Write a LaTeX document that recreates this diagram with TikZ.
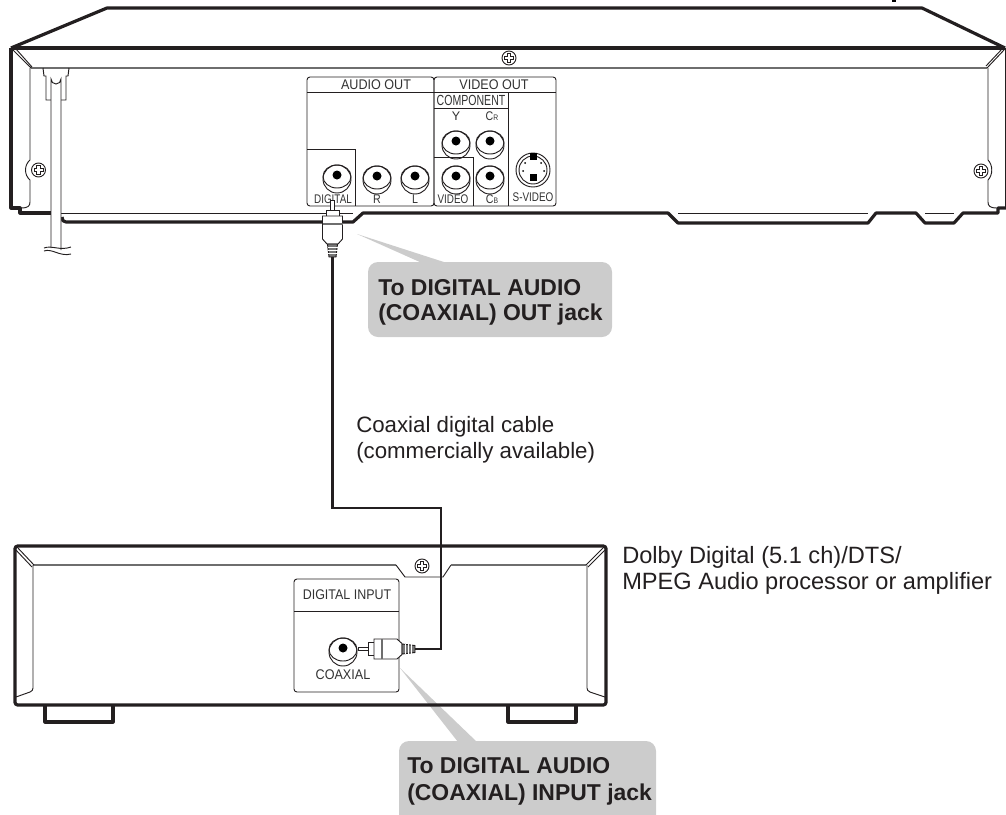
\documentclass[tikz,border=0pt]{standalone}
\usepackage{graphicx}
\usepackage{fontspec}
\setmainfont{Liberation Sans}
\newcommand{\narrowtext}[2]{\scalebox{#1}[1]{#2}}
\tikzset{
  thickline/.style={color={rgb,255:red,35;green,31;blue,32},line width=2.4pt,line join=round},
  thinline/.style={color={rgb,255:red,35;green,31;blue,32},line width=0.7pt},
  greyline/.style={color={rgb,255:red,110;green,110;blue,110},line width=0.9pt},
  cable/.style={color={rgb,255:red,35;green,31;blue,32},line width=1.6pt,line join=miter},
  wedge/.style={fill={rgb,255:red,204;green,204;blue,204},draw=none},
  panelsmall/.style={inner sep=0pt,text={rgb,255:red,50;green,50;blue,50},font=\fontsize{9.4}{10}\selectfont},
  panelbig/.style={inner sep=0pt,text={rgb,255:red,50;green,50;blue,50},font=\fontsize{10.5}{11}\selectfont},
  calloutone/.style={inner sep=0pt,anchor=north west,align=left,text={rgb,255:red,35;green,31;blue,32},font=\fontsize{17.2}{18.8}\selectfont\bfseries},
  callouttwo/.style={inner sep=0pt,anchor=north west,align=left,text={rgb,255:red,35;green,31;blue,32},font=\fontsize{17.2}{20.2}\selectfont\bfseries},
  plainlabel/.style={inner sep=0pt,anchor=north west,align=left,text={rgb,255:red,35;green,31;blue,32},font=\fontsize{16.7}{19.5}\selectfont},
  rcajack/.pic={
    \draw [thinline] (0,-4) circle [radius=14];
    \draw [thinline] (0,-1.5) ellipse [x radius=14, y radius=11.5];
    \fill [black] (0,0) circle [radius=4.5];
  },
  screwhead/.pic={
    \draw [thinline] (0,0) circle [radius=7];
    \draw [thinline] (-1.6,-4.5) -- (1.6,-4.5) -- (1.6,-1.6) -- (4.5,-1.6) -- (4.5,1.6) -- (1.6,1.6) -- (1.6,4.5) -- (-1.6,4.5) -- (-1.6,1.6) -- (-4.5,1.6) -- (-4.5,-1.6) -- (-1.6,-1.6) -- cycle ;
  },
  coaxplug/.pic={
    \draw [thinline,fill=white] (0,-1.7) rectangle (10,1.7);
    \draw [thinline,fill=white] (10,-6.5) rectangle (16,6.5);
    \draw [thinline,fill=white] (16,-10) -- (39,-10) -- (44,-5.5) -- (44,5.5) -- (39,10) -- (16,10) -- cycle ;
    \draw [greyline] (24,-10) -- (24,10);
    \draw [thinline,fill={rgb,255:red,120;green,120;blue,120}] (44,-5) -- (57,-3.5) -- (57,3.5) -- (44,5) -- cycle ;
    \draw [white,line width=0.6pt] (47,-5) -- (47,5) (50,-5) -- (50,5) (53,-5) -- (53,5);
  }
}
\begin{document}
\begin{tikzpicture}[x=0.75pt,y=0.75pt,yscale=-1,xscale=1]
\useasboundingbox (0,0) rectangle (1006,814);

%Shape: Callout pointers and boxes go under the lines
\fill [wedge] (357,234) -- (447,263) -- (422,263) -- cycle ;
\fill [wedge,rounded corners=7.5pt] (368,262) rectangle (612,337);
\fill [wedge] (400,668) -- (477,742) -- (458,742) -- cycle ;
\path [clip] (0,0) rectangle (1006,814);
\fill [wedge,rounded corners=7.5pt] (399,741) rectangle (656,830);

%Straight Lines: upper player, outline
\draw [thickline] (11,48) -- (107,8) -- (922,8) -- (1005,48) ;
\draw [thickline] (11,48) -- (1005,48) ;
\draw [thickline] (51,213) -- (20,213) -- (20,208) -- (11,208) -- (11,48) ;
\draw [thickline] (62,217) .. controls (62,220) and (63,222) .. (66,222) -- (353,222) -- (363,213) -- (668,213) -- (678,223) -- (868,223) -- (876,213) -- (916,213) -- (925,223) -- (954,223) -- (963,213) -- (998,213) -- (998,208) -- (1006,208) ;
\draw [thinline] (1005,48) -- (1005,208) ;
\draw [thinline] (61,213) -- (353,213) ;
\draw [thinline] (678,213) -- (868,213) ;
\draw [thinline] (925,213) -- (954,213) ;
%Straight Lines: upper player, inner face
\draw [greyline] (31,68) -- (987,68) ;
\draw [thinline] (13,50) -- (31,68) (16,49) -- (32,67) ;
\draw [thinline] (1004,50) -- (987,68) (1002,49) -- (986,66) ;
\draw [thinline] (30,68) -- (30,160) .. controls (24,165) and (24,175) .. (30,180) -- (30,202) .. controls (30,206) and (28,208) .. (21,208) ;
\draw [thinline] (988,68) -- (988,160) .. controls (993,165) and (993,175) .. (988,180) -- (988,202) .. controls (988,206) and (990,208) .. (997,208) ;
\path (38.5,170) pic {screwhead} ;
\path (981,171) pic {screwhead} ;
\path (509,58) pic {screwhead} ;
\fill [black] (892,0) rectangle (896,1.5) ;

%Shape: mains lead
\draw [thinline] (43,68) -- (44,76) -- (46,76) -- (46,100) -- (66,100) -- (66,76) -- (68,76) -- (69,68) ;
\draw [thinline,fill=white] (51,248) -- (51,79) arc [start angle=180, end angle=360, x radius=5, y radius=-5] -- (61,250) ;
\draw [thinline] (44,248) .. controls (52,245) and (60,251) .. (71,247) ;
\draw [thinline] (44,251) .. controls (52,248) and (60,257) .. (71,254) ;

%Shape: upper panel
\draw [thinline,rounded corners=2.2pt] (307,77) rectangle (434,206) ;
\draw [thinline,rounded corners=2.2pt] (434,77) rectangle (556,206) ;
\draw [thinline] (307,92) -- (556,92) ;
\draw [thinline] (307,149) -- (355,149) -- (355,206) ;
\draw [thinline] (434,108) -- (508,108) ;
\draw [thinline] (508,92) -- (508,206) ;
\draw [thinline] (434,157) -- (473,157) -- (473,206) ;
\node [panelbig] (audioout) at (376,85) {\narrowtext{.9}{AUDIO OUT}};
\node [panelbig] (videoout) at (494,85) {\narrowtext{.9}{VIDEO OUT}};
\node [panelsmall,font=\fontsize{11}{11}\selectfont] (component) at (471,100) {\narrowtext{.72}{COMPONENT}};
\node [panelsmall] (ylabel) at (456,116) {Y};
\node [panelsmall] (crlabel) at (492,116) {\narrowtext{.85}{C{\fontsize{6}{6}\selectfont R}}};
\node [panelsmall] (digital) at (333,199) {\narrowtext{.79}{DIGITAL}};
\node [panelsmall] (rlabel) at (377,199) {\narrowtext{.85}{R}};
\node [panelsmall] (llabel) at (415,199) {\narrowtext{.85}{L}};
\node [panelsmall] (videolabel) at (453,199) {\narrowtext{.79}{VIDEO}};
\node [panelsmall] (cblabel) at (492,199) {\narrowtext{.85}{C{\fontsize{6}{6}\selectfont B}}};
\node [panelsmall] (svideo) at (533,197) {\narrowtext{.79}{S-VIDEO}};
\path (337,175) pic {rcajack} ;
\path (377,176) pic {rcajack} ;
\path (415,176) pic {rcajack} ;
\path (456,141) pic {rcajack} ;
\path (490,141) pic {rcajack} ;
\path (456,176) pic {rcajack} ;
\path (490,176) pic {rcajack} ;
%Shape: s-video socket
\draw [thinline] (533,170) circle [radius=17] ;
\draw [thinline] (533,170) circle [radius=14] ;
\fill [black] (529.5,153) rectangle (536.5,160) ;
\fill [black] (529.5,174) rectangle (536.5,181) ;
\fill [black] (525,163) circle [radius=1] (541,163) circle [radius=1] (523,171) circle [radius=1] (544,171) circle [radius=1] ;

%Shape: lower unit
\draw [thickline,rounded corners=2pt] (15,546) rectangle (606,705) ;
\draw [greyline] (33,565) -- (396,565) ;
\draw [thinline] (396,565) -- (405,577) -- (443,577) -- (451,565) ;
\draw [greyline] (451,565) -- (586,565) ;
\draw [thinline] (17,547) -- (34,565) (15,549) -- (32,567) ;
\draw [thinline] (604,547) -- (586,565) (606,549) -- (588,567) ;
\draw [thinline] (33,565) -- (33,688) .. controls (33,690) and (32,691) .. (30,692) -- (16,697) ;
\draw [thinline] (587,565) -- (587,688) .. controls (587,690) and (588,691) .. (590,692) -- (605,697) ;
\draw [thickline] (45,706) -- (45,722) -- (113,722) -- (113,706) ;
\draw [thickline] (508,706) -- (508,722) -- (576,722) -- (576,706) ;
\path (422,566) pic {screwhead} ;
%Shape: lower panel
\draw [thinline,rounded corners=2.2pt] (294,579) rectangle (399,692) ;
\draw [thinline] (294,611) -- (399,611) ;
\node [panelbig] (digitalinput) at (347,595) {\narrowtext{.89}{DIGITAL INPUT}};
\node [panelbig] (coaxial) at (343,675) {\narrowtext{.9}{COAXIAL}};
\path (343,648) pic {rcajack} ;

%Straight Lines: cable and its plugs
\path (332.5,200) pic [rotate=-90] {coaxplug} ;
\path (358,649) pic {coaxplug} ;
\coordinate (plugupper) at (332.5,257) ;
\coordinate (bendupper) at (332.5,508) ;
\coordinate (bendlower) at (441,508) ;
\coordinate (cornerlower) at (441,649) ;
\coordinate (pluglower) at (415,649) ;
\draw [cable] (plugupper) -- (bendupper) -- (bendlower) -- (cornerlower) -- (pluglower) ;

%Text
\node [calloutone] (outcallout) at (378,279) {To DIGITAL AUDIO\\(COAXIAL) OUT jack};
\node [callouttwo] (incallout) at (407,757) {To DIGITAL AUDIO\\(COAXIAL) INPUT jack};
\node [plainlabel] (cablelabel) at (356,416) {Coaxial digital cable\\(commercially available)};
\node [plainlabel,font=\fontsize{17.7}{19.5}\selectfont] (unitlabel) at (622,546) {Dolby Digital (5.1 ch)/DTS/\\MPEG Audio processor or amplifier};

\end{tikzpicture}
\end{document}
